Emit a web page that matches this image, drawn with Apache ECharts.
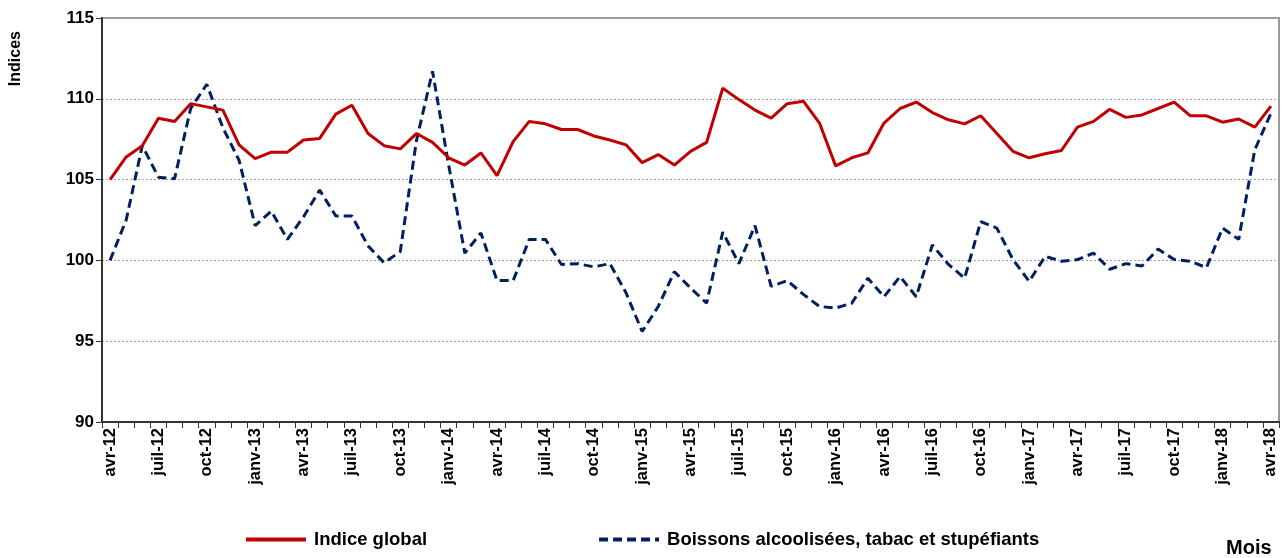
<!DOCTYPE html>
<html>
<head>
<meta charset="utf-8">
<script src="https://cdn.jsdelivr.net/npm/echarts@6/dist/echarts.min.js"></script>
<style>
  html, body { margin: 0; padding: 0; background: #fff; }
  #chart { width: 1286px; height: 558px; }
</style>
</head>
<body>
<div id="chart"></div>
<script>
// mois (avr-12 .. avr-18)
var monthNames = ['janv', 'févr', 'mars', 'avr', 'mai', 'juin', 'juil', 'août', 'sept', 'oct', 'nov', 'déc'];
var categories = [];
for (var k = 0; k < 73; k++) {
    var m = (3 + k) % 12;
    var y = 12 + Math.floor((3 + k) / 12);
    categories.push(monthNames[m] + '-' + y);
}

var indiceGlobal = [
    105.0, 106.4, 107.1, 108.8, 108.6, 109.7, 109.5, 109.3, 107.15, 106.3,
    106.7, 106.7, 107.45, 107.55, 109.05, 109.6, 107.85, 107.1, 106.9, 107.85,
    107.3, 106.35, 105.9, 106.65, 105.25, 107.35, 108.6, 108.45, 108.1, 108.1,
    107.7, 107.45, 107.15, 106.05, 106.55, 105.9, 106.75, 107.3, 110.65, 109.95,
    109.3, 108.8, 109.7, 109.85, 108.5, 105.85, 106.35, 106.65, 108.5, 109.4,
    109.8, 109.15, 108.7, 108.45, 108.95, 107.85, 106.75, 106.35, 106.6, 106.8,
    108.25, 108.6, 109.35, 108.85, 109.0, 109.4, 109.8, 108.95, 108.95, 108.55,
    108.75, 108.25, 109.55
];

var boissons = [
    100.0, 102.5, 107.1, 105.15, 105.05, 109.4, 110.9, 108.2, 106.2, 102.15,
    103.05, 101.3, 102.7, 104.35, 102.75, 102.75, 100.9, 99.85, 100.55, 107.4,
    111.7, 105.9, 100.45, 101.7, 98.75, 98.75, 101.3, 101.3, 99.75, 99.8,
    99.6, 99.8, 98.0, 95.6, 97.15, 99.3, 98.3, 97.35, 101.75, 99.8,
    102.15, 98.4, 98.75, 97.9, 97.15, 97.05, 97.35, 98.9, 97.75, 99.0,
    97.75, 100.95, 99.75, 98.9, 102.4, 102.0, 100.05, 98.7, 100.25, 99.95,
    100.05, 100.45, 99.45, 99.8, 99.65, 100.7, 100.05, 99.95, 99.55, 102.0,
    101.3, 106.85, 109.1
];

var seriesNames = ['Indice global', 'Boissons alcoolisées, tabac et stupéfiants'];

var fontFam = '"Liberation Sans", Arial, sans-serif';
var chart = echarts.init(document.getElementById('chart'));

var option = {
    animation: false,
    grid: {
        left: 102,
        right: 7,
        top: 18,
        bottom: 136,
        show: true,
        borderColor: '#9a9a9a',
        borderWidth: 2
    },
    legend: {
        orient: 'horizontal',
        left: 239,
        top: 525,
        itemWidth: 60,
        itemHeight: 14,
        itemGap: 170,
        itemStyle: { opacity: 0 },
        lineStyle: { width: 4 },
        textStyle: { fontFamily: fontFam, fontWeight: 'bold', fontSize: 18.5, color: '#000', padding: [0, 0, 0, 3] },
        data: seriesNames
    },
    graphic: [
        {
            type: 'text',
            left: 8,
            top: 31,
            rotation: Math.PI / 2,
            style: { text: 'Indices', font: 'bold 16px ' + fontFam, fill: '#000' }
        },
        {
            type: 'text',
            left: 1226,
            top: 538,
            style: { text: 'Mois', font: 'bold 20px ' + fontFam, fill: '#000' }
        }
    ],
    xAxis: {
        type: 'category',
        data: categories,
        boundaryGap: true,
        axisLine: { lineStyle: { color: '#333', width: 2 } },
        axisTick: { show: true, interval: 0, length: 6, lineStyle: { color: '#333' } },
        axisLabel: {
            interval: 2,
            rotate: 90,
            margin: 6,
            fontFamily: fontFam,
            fontWeight: 'bold',
            fontSize: 16.5,
            color: '#000'
        },
        splitLine: { show: false }
    },
    yAxis: {
        type: 'value',
        min: 90,
        max: 115,
        interval: 5,
        axisLine: { show: true, lineStyle: { color: '#333', width: 2 } },
        axisTick: { show: true, length: 6, lineStyle: { color: '#333' } },
        axisLabel: {
            margin: 8,
            fontFamily: fontFam,
            fontWeight: 'bold',
            fontSize: 17,
            color: '#000'
        },
        splitLine: { show: true, lineStyle: { color: '#a0a0a0', type: [2, 2], width: 1 } }
    },
    series: [
        {
            name: seriesNames[0],
            type: 'line',
            data: indiceGlobal,
            symbol: 'none',
            lineStyle: { color: '#c00000', width: 3 },
            itemStyle: { color: '#c00000' },
            z: 3
        },
        {
            name: seriesNames[1],
            type: 'line',
            data: boissons,
            symbol: 'none',
            lineStyle: { color: '#002060', width: 3, type: [9, 5] },
            itemStyle: { color: '#002060' },
            z: 2
        }
    ]
};
chart.setOption(option);
</script>
</body>
</html>
